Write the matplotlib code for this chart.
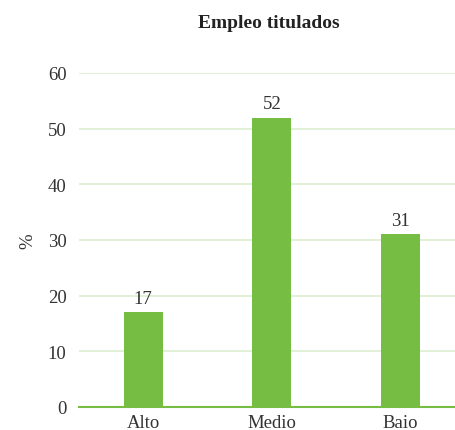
import matplotlib
matplotlib.use("Agg")
import matplotlib.pyplot as plt

# data
categories = ["Alto", "Medio", "Baio"]
values = [17, 52, 31]
y_ticks = [0, 10, 20, 30, 40, 50, 60]

bar_color = "#76be43"
grid_color = "#ddeed0"
text_color = "#333333"

plt.rcParams['font.family'] = ['Liberation Serif', 'DejaVu Serif']

fig = plt.figure(figsize=(4.55, 4.31), dpi=100)
ax = fig.add_axes([79 / 455, 1 - 408 / 431, 376 / 455, (408 - 74) / 431])

x = list(range(len(categories)))
bars = ax.bar(x, values, width=0.30, color=bar_color, zorder=3)

for b, v in zip(bars, values):
    ax.text(b.get_x() + b.get_width() / 2, v + 1.0, str(v),
            ha='center', va='bottom', fontsize=13.5, color=text_color)

ax.set_xlim(-0.5, 2.426)
ax.set_ylim(0, 60)
ax.set_yticks(y_ticks)
ax.set_xticks(x)
ax.set_xticklabels(categories)
ax.tick_params(axis='both', length=0, labelsize=13.5, colors=text_color)
ax.tick_params(axis='y', pad=9)
ax.tick_params(axis='x', pad=5)

ax.yaxis.grid(True, color=grid_color, linewidth=1.2, zorder=0)
ax.xaxis.grid(False)
for s in ['top', 'right', 'left']:
    ax.spines[s].set_visible(False)
ax.spines['bottom'].set_color(bar_color)
ax.spines['bottom'].set_linewidth(1.5)
ax.spines['bottom'].set_zorder(4)

ax.set_ylabel("%", fontsize=13.5, color=text_color, labelpad=8)

fig.text(269 / 455, 1 - 23 / 431, "Empleo titulados", ha='center', va='center',
         fontsize=14, fontweight='bold', color="#222222")

fig.savefig("out.png", dpi=100)
